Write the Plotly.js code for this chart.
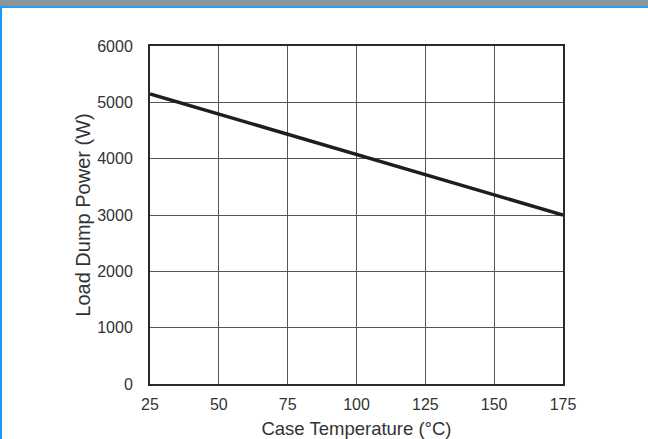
<!DOCTYPE html>
<html>
<head>
<meta charset="utf-8">
<script src="https://cdn.plot.ly/plotly-3.0.1.min.js"></script>
<style>
  html, body { margin: 0; padding: 0; background: #fff; }
  #wrap { position: relative; width: 648px; height: 439px; overflow: hidden; }
  #chart { position: absolute; left: 0; top: 0; width: 648px; height: 439px; }
  #topbar { position: absolute; left: 0; top: 0; width: 648px; height: 6px; background: #8c959c; z-index: 2; }
  #topline { position: absolute; left: 0; top: 6px; width: 648px; height: 2px; background: #2a9cf0; z-index: 2; }
  #leftline { position: absolute; left: 0; top: 6px; width: 2px; height: 433px; background: #1e98f5; z-index: 2; }
</style>
</head>
<body>
<div id="wrap">
  <div id="chart"></div>
  <div id="topbar"></div>
  <div id="topline"></div>
  <div id="leftline"></div>
</div>
<script>
const caseTemperature = [25, 175];
const loadDumpPower = [5150, 3000];
const xTicks = [25, 50, 75, 100, 125, 150, 175];
const yTicks = [0, 1000, 2000, 3000, 4000, 5000, 6000];

const trace = {
  x: caseTemperature,
  y: loadDumpPower,
  mode: 'lines',
  line: { color: '#1e1e1e', width: 3.5 },
  hoverinfo: 'skip'
};

const fam = 'Liberation Sans, Arial, Helvetica, sans-serif';
const font = { family: fam, color: '#333', size: 16 };

const layout = {
  width: 648,
  height: 439,
  margin: { l: 150, r: 85, t: 46, b: 55 },
  paper_bgcolor: '#fff',
  plot_bgcolor: '#fff',
  showlegend: false,
  font: font,
  xaxis: {
    range: [25, 175],
    tickvals: xTicks,
    ticktext: xTicks.map(String),
    tickfont: { family: fam, size: 16, color: '#333' },
    showgrid: true,
    gridcolor: '#555',
    gridwidth: 1,
    showline: true,
    mirror: true,
    linecolor: '#2a2a2a',
    linewidth: 2,
    ticks: '',
    ticklabelstandoff: 5,
    zeroline: false,
    title: { text: 'Case Temperature (°C)', font: { family: fam, size: 18.5, color: '#333' }, standoff: 11 },
    fixedrange: true
  },
  yaxis: {
    range: [0, 6000],
    tickvals: yTicks,
    ticktext: yTicks.map(String),
    tickfont: { family: fam, size: 16, color: '#333' },
    showgrid: true,
    gridcolor: '#555',
    gridwidth: 1,
    showline: true,
    mirror: true,
    linecolor: '#2a2a2a',
    linewidth: 2,
    ticks: '',
    ticklabelstandoff: 12,
    zeroline: false,
    title: { text: 'Load Dump Power (W)', font: { family: fam, size: 20, color: '#333' }, standoff: 1 },
    fixedrange: true
  }
};

Plotly.newPlot('chart', [trace], layout, { staticPlot: true, displayModeBar: false });
</script>
</body>
</html>
